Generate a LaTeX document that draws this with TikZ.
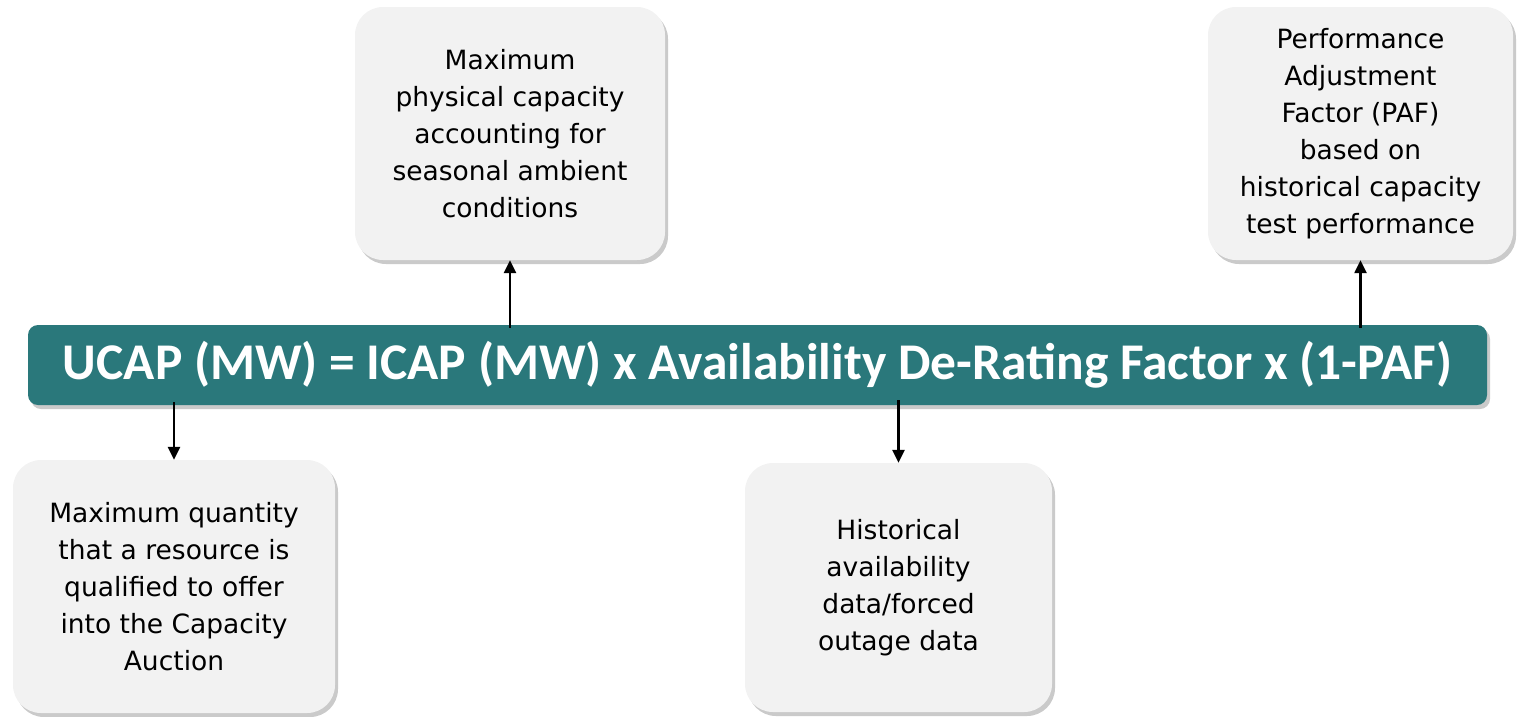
\documentclass[tikz,border=0pt]{standalone}
\usepackage{fontspec}
\setmainfont{DejaVu Sans}
\newfontfamily\barfont{Carlito}
\usetikzlibrary{shadows,arrows.meta}
\definecolor{teal}{HTML}{2A787B}
\definecolor{boxgray}{HTML}{F2F2F2}
\tikzset{
  infobox/.style={draw=none, fill=boxgray, rounded corners=28pt, align=center,
    font=\fontsize{26.5}{37}\selectfont, inner sep=0pt,
    drop shadow={shadow xshift=3pt, shadow yshift=-4pt, opacity=0.35, fill=black!60}},
  barbox/.style={draw=none, fill=teal, rounded corners=10pt, text=white,
    font=\barfont\bfseries\fontsize{51.5}{60}\selectfont, inner sep=0pt,
    minimum width=1459pt, minimum height=80pt,
    drop shadow={shadow xshift=3pt, shadow yshift=-4pt, opacity=0.35, fill=black!60}},
  arr/.style={line width=2.5pt, -{Triangle[width=12pt,length=13pt]}}
}
\begin{document}
\begin{tikzpicture}[x=1pt,y=-1pt]
\useasboundingbox (0,0) rectangle (1517,716);
\node[barbox] (bar) at (757.5,365) {UCAP (MW) = ICAP (MW) x Availability De-Rating Factor x (1-PAF)};
\node[infobox, minimum width=310pt, minimum height=253pt] (top1) at (510,133.5)
  {Maximum\\physical capacity\\accounting for\\seasonal ambient\\conditions};
\node[infobox, minimum width=305pt, minimum height=253pt] (top2) at (1360.5,133.5)
  {Performance\\Adjustment\\Factor (PAF)\\based on\\historical capacity\\test performance};
\node[infobox, minimum width=322pt, minimum height=253pt] (bot1) at (174,586.5)
  {Maximum quantity\\that a resource is\\qualified to offer\\into the Capacity\\Auction};
\node[infobox, minimum width=307pt, minimum height=249pt] (bot2) at (898.5,587.5)
  {Historical\\availability\\data/forced\\outage data};
\draw[arr] ([yshift=-3pt]bar.north -| top1.south) -- (top1.south);
\draw[arr] ([yshift=-3pt]bar.north -| top2.south) -- (top2.south);
\draw[arr] ([yshift=3pt]bar.south -| bot1.north) -- (bot1.north);
\draw[arr] ([yshift=5pt]bar.south -| bot2.north) -- (bot2.north);
\end{tikzpicture}
\end{document}
